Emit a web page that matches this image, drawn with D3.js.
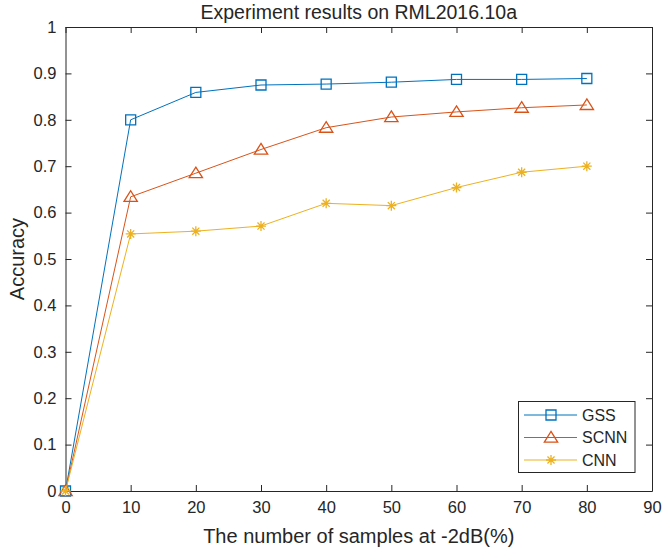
<!DOCTYPE html>
<html><head><meta charset="utf-8">
<script src="https://cdn.jsdelivr.net/npm/d3@7"></script>
<style>body{margin:0;background:#fff}svg text{font-family:"Liberation Sans",Arial,sans-serif;fill:#262626}</style>
</head><body>
<svg id="c" width="664" height="552"></svg>
<script>
const xValues=[0,10,20,30,40,50,60,70,80];
const gss=[0,0.800,0.859,0.875,0.877,0.881,0.887,0.887,0.889];
const scnn=[0,0.634,0.685,0.736,0.783,0.806,0.817,0.826,0.832];
const cnn=[0,0.554,0.560,0.571,0.620,0.615,0.654,0.687,0.700];
const seriesNames=["GSS","SCNN","CNN"];
const xTicks=[0,10,20,30,40,50,60,70,80,90];
const yTicks=[0,0.1,0.2,0.3,0.4,0.5,0.6,0.7,0.8,0.9,1];
const colors=["#0072BD","#D95319","#EDB120"];
const markers=["square","triangle","star"];

const svg=d3.select("#c");
const L=65.5,R=652,T=27,B=491;
const x=d3.scaleLinear().domain([0,90]).range([L,R]);
const y=d3.scaleLinear().domain([0,1]).range([B,T]);
const axisColor="#262626";

const gx=svg.append("g").attr("transform",`translate(0,${B})`)
 .call(d3.axisBottom(x).tickValues(xTicks).tickSizeInner(-6).tickSizeOuter(0).tickPadding(10).tickFormat(d3.format("d")));
const gxt=svg.append("g").attr("transform",`translate(0,${T})`)
 .call(d3.axisTop(x).tickValues(xTicks).tickSizeInner(-6).tickSizeOuter(0).tickFormat(""));
const gy=svg.append("g").attr("transform",`translate(${L},0)`)
 .call(d3.axisLeft(y).tickValues(yTicks).tickSizeInner(-6).tickSizeOuter(0).tickPadding(9).tickFormat(d=>d===0?"0":d===1?"1":d3.format(".1f")(d)));
const gyr=svg.append("g").attr("transform",`translate(${R},0)`)
 .call(d3.axisRight(y).tickValues(yTicks).tickSizeInner(-6).tickSizeOuter(0).tickFormat(""));
[gx,gxt,gy,gyr].forEach(g=>{
  g.select(".domain").attr("stroke",axisColor).attr("stroke-width",1);
  g.selectAll(".tick line").attr("stroke",axisColor);
  g.selectAll(".tick text").attr("font-size",16.5).attr("font-family","Liberation Sans, Arial, sans-serif").attr("fill",axisColor);
});

function markerPath(type,s){
  if(type==="square"){const h=s/2;return `M${-h},${-h}H${h}V${h}H${-h}Z`;}
  if(type==="triangle"){const h=s*0.55;return `M0,${-h}L${h*1.1},${h*0.75}L${-h*1.1},${h*0.75}Z`;}
  const r=s/2,d=r*0.7071;
  return `M${-r},0H${r}M0,${-r}V${r}M${-d},${-d}L${d},${d}M${-d},${d}L${d},${-d}`;
}

const data=[gss,scnn,cnn];
const line=d3.line().x((d,i)=>x(xValues[i])).y(d=>y(d));
data.forEach((vals,k)=>{
  svg.append("path").datum(vals).attr("d",line).attr("fill","none").attr("stroke",colors[k]).attr("stroke-width",1);
  svg.selectAll(null).data(vals).enter().append("path")
   .attr("transform",(d,i)=>`translate(${x(xValues[i])},${y(d)})`)
   .attr("d",markerPath(markers[k],k===1?11:10)).attr("fill","none").attr("stroke",colors[k]).attr("stroke-width",1.3);
});

const lg=svg.append("g");
lg.append("rect").attr("x",518.5).attr("y",401.5).attr("width",116.5).attr("height",71).attr("fill","#fff").attr("stroke",axisColor).attr("stroke-width",1);
seriesNames.forEach((n,k)=>{
  const yy=415+k*22.5;
  lg.append("line").attr("x1",524).attr("x2",577).attr("y1",yy).attr("y2",yy).attr("stroke",colors[k]).attr("stroke-width",1);
  lg.append("path").attr("transform",`translate(551,${yy})`).attr("d",markerPath(markers[k],k===1?11:10)).attr("fill","none").attr("stroke",colors[k]).attr("stroke-width",1.3);
  lg.append("text").attr("x",582).attr("y",yy).attr("dy","0.36em").attr("font-size",16).text(n);
});

svg.append("text").attr("x",(L+R)/2).attr("y",19).attr("text-anchor","middle").attr("font-size",19.5).text("Experiment results on RML2016.10a");
svg.append("text").attr("x",(L+R)/2).attr("y",543).attr("text-anchor","middle").attr("font-size",20).text("The number of samples at -2dB(%)");
svg.append("text").attr("transform",`translate(24,${(T+B)/2}) rotate(-90)`).attr("text-anchor","middle").attr("font-size",20).text("Accuracy");
</script></body></html>
